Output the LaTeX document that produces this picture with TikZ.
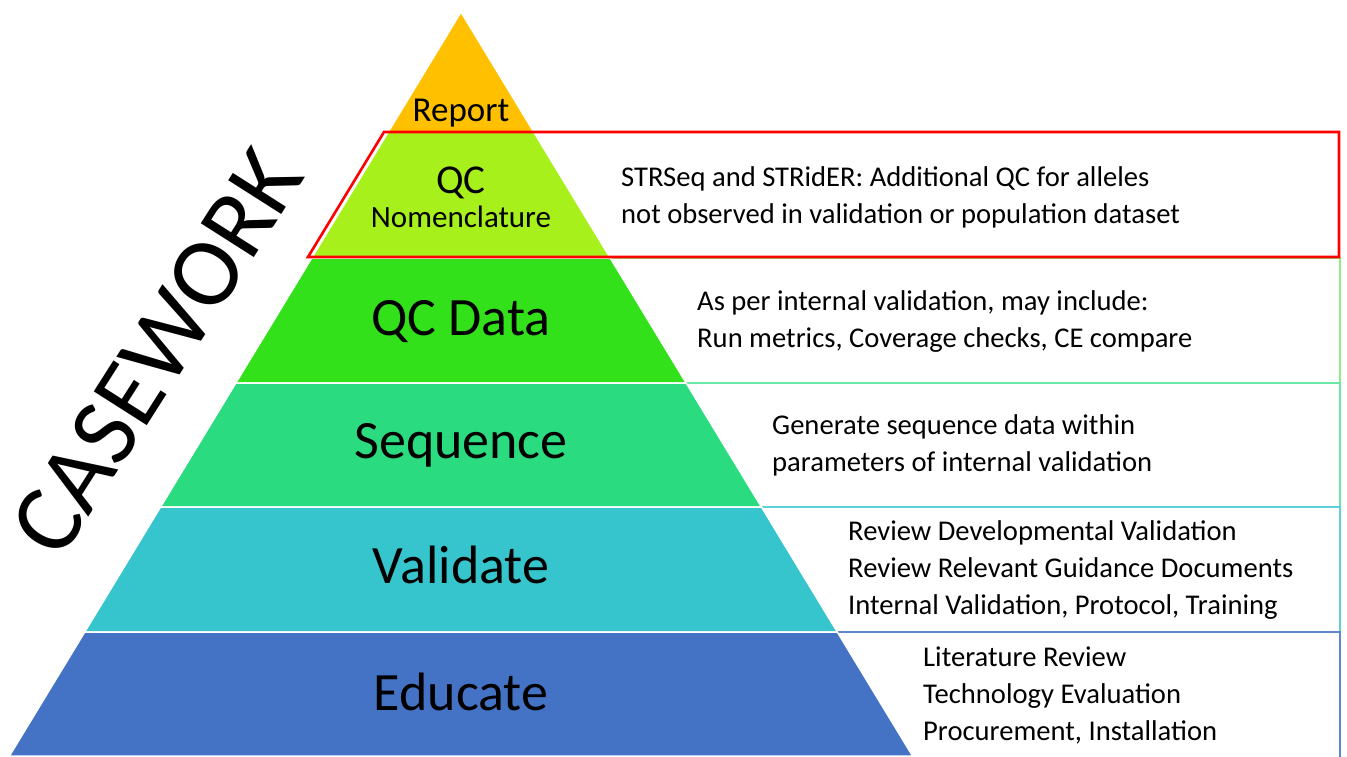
\documentclass[tikz,border=0pt]{standalone}
\usepackage{fontspec}
\setmainfont{Carlito}
\usepackage{tikz}
\usetikzlibrary{positioning}

\definecolor{reportcol}{HTML}{FFC000}
\definecolor{nomencol}{HTML}{A7F01C}
\definecolor{qcdatacol}{HTML}{33E11B}
\definecolor{seqcol}{HTML}{2BDB7F}
\definecolor{validcol}{HTML}{36C4CD}
\definecolor{educol}{HTML}{4472C4}

\begin{document}
\begin{tikzpicture}[x=1pt, y=-1pt,
    band/.style={draw=white, line width=1.5pt, line join=round},
    descbox/.style={line width=1.6pt},
    biglabel/.style={font=\fontsize{54}{60}\selectfont, anchor=base, inner sep=0pt},
    smalllabel/.style={font=\fontsize{35}{40}\selectfont, anchor=base, inner sep=0pt},
    desc/.style={font=\fontsize{28.6}{37}\selectfont, align=left, anchor=base west, inner sep=0pt}]

    \useasboundingbox (0,0) rectangle (1347,756);

    % boxes behind the pyramid
    \draw[descbox, draw=qcdatacol!55] (600,258) rectangle (1340,383);
    \draw[descbox, draw=seqcol!70] (680,383) rectangle (1340,507);
    \draw[descbox, draw=validcol!80] (750,507) rectangle (1340,632);
    \draw[descbox, draw=educol!85] (830,632) rectangle (1340,780);

    % pyramid
    \draw[band, fill=reportcol] (461,12) -- (533.8,132) -- (388.2,132) -- cycle;
    \draw[band, fill=nomencol] (388.2,132) -- (533.8,132) -- (610.3,258) -- (311.7,258) -- cycle;
    \draw[band, fill=qcdatacol] (311.7,258) -- (610.3,258) -- (686.2,383) -- (235.8,383) -- cycle;
    \draw[band, fill=seqcol] (235.8,383) -- (686.2,383) -- (761.5,507) -- (160.5,507) -- cycle;
    \draw[band, fill=validcol] (160.5,507) -- (761.5,507) -- (837.3,632) -- (84.7,632) -- cycle;
    \draw[band, fill=educol] (84.7,632) -- (837.3,632) -- (912.6,756) -- (9.4,756) -- cycle;

    % highlighted level
    \draw[red, line width=2.6pt] (384,132) -- (1339,132) -- (1339,257) -- (308,257) -- cycle;

    \node[smalllabel] (report) at (461,121) {Report};
    \node[font=\fontsize{41}{46}\selectfont, anchor=base, inner sep=0pt] (qc) at (461,193) {QC};
    \node[smalllabel, font=\fontsize{31}{36}\selectfont] (nomen) at (461,227) {Nomenclature};
    \node[biglabel] (qcdata) at (461,335) {QC Data};
    \node[biglabel] (seq) at (461,458) {Sequence};
    \node[biglabel] (valid) at (461,583) {Validate};
    \node[biglabel] (edu) at (461,710) {Educate};

    % base anchor sits on the last line
    \node[desc] (nomentxt) at (621,223) {STRSeq and STRidER: Additional QC for alleles\\not observed in validation or population dataset};
    \node[desc] (qcdatatxt) at (697,347) {As per internal validation, may include:\\Run metrics, Coverage checks, CE compare};
    \node[desc] (seqtxt) at (772,471) {Generate sequence data within\\parameters of internal validation};
    \node[desc] (validtxt) at (848,614) {Review Developmental Validation\\Review Relevant Guidance Documents\\Internal Validation, Protocol, Training};
    \node[desc] (edutxt) at (923,740) {Literature Review\\Technology Evaluation\\Procurement, Installation};

    \node[rotate=57.5, font=\fontsize{98}{104}\selectfont, inner sep=0pt] (casework) at (157,352) {CASEWORK};
\end{tikzpicture}
\end{document}
